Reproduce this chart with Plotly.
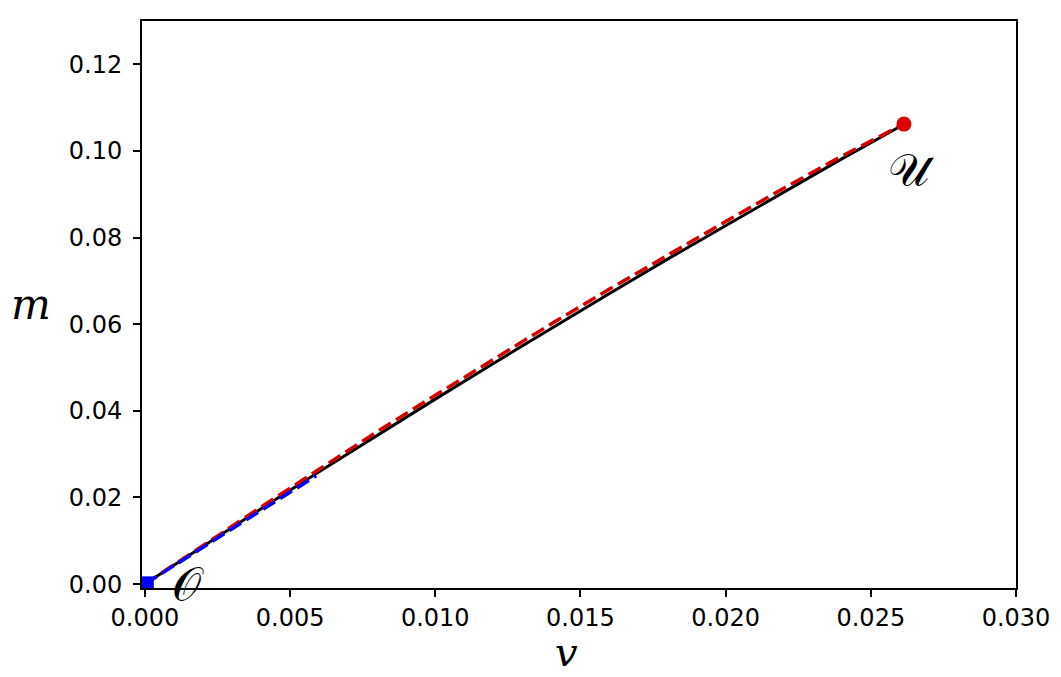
import plotly.graph_objects as go

# black solid curve
v_black = [0, 0.002, 0.004, 0.006, 0.008, 0.010, 0.012, 0.014, 0.016, 0.018, 0.020, 0.022, 0.024, 0.0261]
m_black = [0, 0.00875, 0.01739, 0.02594, 0.03437, 0.0427, 0.05094, 0.05907, 0.0671, 0.07502, 0.0828, 0.09056, 0.09817, 0.1060]

# red dashed curve
v_red = [0, 0.002, 0.004, 0.006, 0.008, 0.010, 0.012, 0.014, 0.016, 0.018, 0.020, 0.022, 0.024, 0.0261]
m_red = [0, 0.0090, 0.0178, 0.0265, 0.0352, 0.0436, 0.0519, 0.0601, 0.0681, 0.0760, 0.0837, 0.0914, 0.0988, 0.1061]

# blue dashed curve
v_blue = [0, 0.001, 0.002, 0.003, 0.004, 0.005, 0.0059]
m_blue = [0, 0.0043, 0.0086, 0.0128, 0.0170, 0.0212, 0.0250]

pt_O = (0.0001, 0.0004)
pt_U = (0.02614, 0.1062)

x_ticks = [0, 0.005, 0.010, 0.015, 0.020, 0.025, 0.030]
x_labels = ['0.000', '0.005', '0.010', '0.015', '0.020', '0.025', '0.030']
y_ticks = [0, 0.02, 0.04, 0.06, 0.08, 0.10, 0.12]
y_labels = ['0.00', '0.02', '0.04', '0.06', '0.08', '0.10', '0.12']

fig = go.Figure()
fig.add_trace(go.Scatter(x=v_black, y=m_black, mode='lines',
                         line=dict(color='black', width=3), showlegend=False))
fig.add_trace(go.Scatter(x=v_red, y=m_red, mode='lines',
                         line=dict(color='#d40000', width=3.5, dash='14px,6px'), showlegend=False))
fig.add_trace(go.Scatter(x=v_blue, y=m_blue, mode='lines',
                         line=dict(color='#0000ff', width=3.5, dash='14px,6px'), showlegend=False))
fig.add_trace(go.Scatter(x=[pt_O[0]], y=[pt_O[1]], mode='markers',
                         marker=dict(symbol='square', color='#0000ff', size=12), showlegend=False))
fig.add_trace(go.Scatter(x=[pt_U[0]], y=[pt_U[1]], mode='markers',
                         marker=dict(symbol='circle', color='#dd0000', size=15), showlegend=False))

axis_common = dict(showgrid=False, zeroline=False, showline=True, linecolor='black',
                   linewidth=2, mirror=True, ticks='outside', ticklen=7, tickwidth=1.5,
                   tickcolor='black', tickfont=dict(family='DejaVu Sans', size=24, color='black'))

fig.update_xaxes(range=[-0.0001, 0.030], tickvals=x_ticks, ticktext=x_labels, **axis_common)
fig.update_yaxes(range=[-0.0009, 0.13], tickvals=y_ticks, ticktext=y_labels,
                 ticklabelstandoff=6, **axis_common)

# plot area in page pixels (page has an ~7px body offset)
L, R, T, B = 134, 1008, 13, 580
W, H = R - L, B - T

fig.add_annotation(text='𝒪', x=0.0015, y=0.0, xref='x', yref='y', showarrow=False,
                   xanchor='center', yanchor='middle',
                   font=dict(family='DejaVu Serif', size=46, color='black'))
fig.add_annotation(text='𝒰', x=0.0264, y=0.0955, xref='x', yref='y', showarrow=False,
                   xanchor='center', yanchor='middle',
                   font=dict(family='DejaVu Serif', size=46, color='black'))
fig.add_annotation(text='<i>m</i>', x=(23 - L) / W, y=(B - 296) / H, xref='paper', yref='paper',
                   showarrow=False, xanchor='center', yanchor='middle',
                   font=dict(family='DejaVu Serif', size=42, color='black'))
fig.add_annotation(text='<i>v</i>', x=(558 - L) / W, y=-(669 - B) / H, xref='paper', yref='paper',
                   showarrow=False, xanchor='center', yanchor='bottom',
                   font=dict(family='DejaVu Serif', size=40, color='black'))

fig.update_layout(width=1061, height=677, margin=dict(l=L, r=1061 - R, t=T, b=677 - B),
                  plot_bgcolor='white', paper_bgcolor='white')

fig.write_html("out.html")
